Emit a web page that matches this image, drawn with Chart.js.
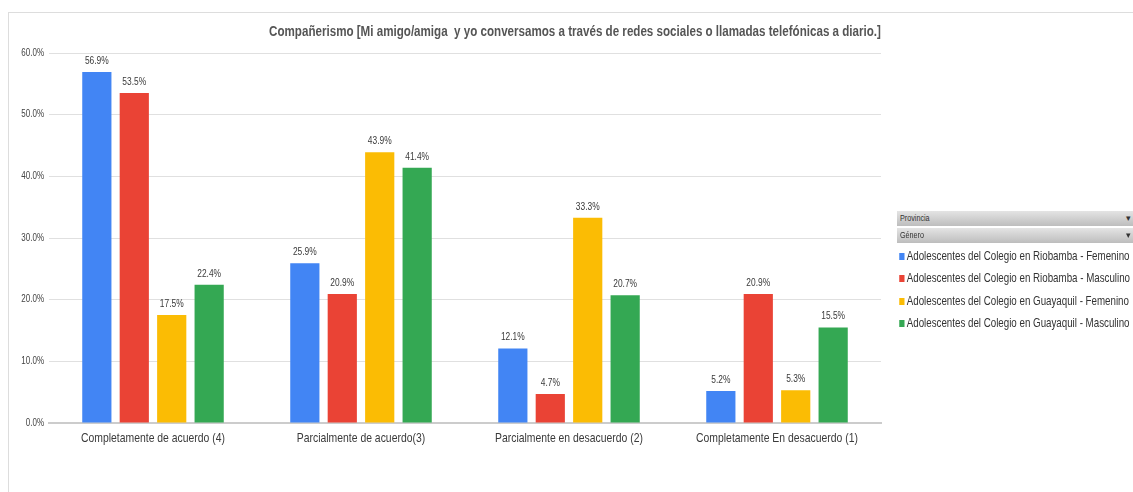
<!DOCTYPE html>
<html lang="es">
<head>
  <meta charset="UTF-8" />
  <title>Compañerismo</title>
  <script src="https://cdn.jsdelivr.net/npm/chart.js"></script>
  <style>
    body { margin: 0; background: #fff; font-family: "Liberation Sans", Arial, sans-serif; }
    #wrap { position: relative; width: 1133px; height: 492px; overflow: hidden; }
    #frame { position: absolute; left: 8px; top: 12px; right: -2px; bottom: -2px; border-left: 1px solid #ddd; border-top: 1px solid #ddd; }
    canvas { position: absolute; left: 0; top: 0; }
    #title { position: absolute; top: 23px; left: 175px; width: 800px; text-align: center; font-weight: bold; font-size: 14.5px; color: #555; white-space: nowrap; transform: scaleX(0.8); transform-origin: 400px 0; }
    #side { position: absolute; left: 897px; top: 211px; width: 240px; }
    .filter { height: 15px; margin-bottom: 2px; background: linear-gradient(#e4e4e4, #bdbdbd); color: #333; position: relative; }
    .filter span { position: absolute; left: 3px; top: 0; font-size: 9px; line-height: 15px; transform: scaleX(0.8); transform-origin: 0 0; }
    .filter::after { content: "▾"; position: absolute; right: 6px; top: 0; font-size: 9px; line-height: 15px; }
    .item { font-size: 13px; color: #333; height: 22.3px; line-height: 22.3px; white-space: nowrap; transform: scaleX(0.75); transform-origin: 0 0; padding-left: 3px; }
    .sw { display: inline-block; width: 7px; height: 7px; margin-right: 3px; vertical-align: 0px; }
  </style>
</head>
<body>
<div id="wrap">
  <div id="frame"></div>
  <canvas id="chart" width="1133" height="492"></canvas>
  <div id="title">Compañerismo [Mi amigo/amiga&nbsp; y yo conversamos a través de redes sociales o llamadas telefónicas a diario.]</div>
  <div id="side">
    <div class="filter"><span>Provincia</span></div>
    <div class="filter"><span>Género</span></div>
    <div id="legend"></div>
  </div>
</div>
<script>
  const categories = ['Completamente de acuerdo (4)', 'Parcialmente de acuerdo(3)', 'Parcialmente en desacuerdo (2)', 'Completamente En desacuerdo (1)'];
  const seriesNames = [
    'Adolescentes del Colegio en Riobamba - Femenino',
    'Adolescentes del Colegio en Riobamba - Masculino',
    'Adolescentes del Colegio en Guayaquil - Femenino',
    'Adolescentes del Colegio en Guayaquil - Masculino'
  ];
  const riobambaFem = [56.9, 25.9, 12.1, 5.2];
  const riobambaMasc = [53.5, 20.9, 4.7, 20.9];
  const guayaquilFem = [17.5, 43.9, 33.3, 5.3];
  const guayaquilMasc = [22.4, 41.4, 20.7, 15.5];
  const colors = ['#4285F4', '#EA4335', '#FBBC04', '#34A853'];
  const yTicks = [0, 10, 20, 30, 40, 50, 60];

  const font = '"Liberation Sans", Arial, sans-serif';
  const squeeze = 0.8; // the original text is horizontally condensed
  const allSeries = [riobambaFem, riobambaMasc, guayaquilFem, guayaquilMasc];

  document.getElementById('legend').innerHTML = seriesNames.map((n, i) =>
    `<div class="item"><span class="sw" style="background:${colors[i]}"></span>${n}</div>`).join('');

  function narrowText(ctx, text, x, y, size, color, align, weight) {
    ctx.save();
    ctx.font = (weight || 'normal') + ' ' + size + 'px ' + font;
    ctx.fillStyle = color;
    ctx.textAlign = align;
    ctx.textBaseline = 'middle';
    ctx.translate(x, y);
    ctx.scale(squeeze, 1);
    ctx.fillText(text, 0, 0);
    ctx.restore();
  }

  // draws value labels, and the axis labels in a condensed face
  const textPlugin = {
    id: 'textPlugin',
    afterDraw(chart) {
      const ctx = chart.ctx;
      const xs = chart.scales.x, ys = chart.scales.y;
      chart.data.datasets.forEach((ds, i) => {
        chart.getDatasetMeta(i).data.forEach((bar, j) => {
          narrowText(ctx, ds.data[j].toFixed(1) + '%', bar.x, bar.y - 11, 10.5, '#3a3a3a', 'center');
        });
      });
      categories.forEach((c, i) => {
        narrowText(ctx, c, xs.getPixelForTick(i), xs.top + 15, 13, '#3a3a3a', 'center');
      });
      yTicks.forEach(v => {
        narrowText(ctx, v.toFixed(1) + '%', ys.left + 44, ys.getPixelForValue(v), 10, '#444', 'right');
      });
    }
  };

  new Chart(document.getElementById('chart'), {
    type: 'bar',
    data: {
      labels: categories,
      datasets: allSeries.map((d, i) => ({
        label: seriesNames[i],
        data: d,
        backgroundColor: colors[i],
        categoryPercentage: 0.72,
        barPercentage: 0.78
      }))
    },
    options: {
      responsive: false,
      animation: false,
      events: [],
      layout: { padding: { left: 0, right: 252, top: 53, bottom: 0 } },
      plugins: { legend: { display: false }, title: { display: false }, tooltip: { enabled: false } },
      scales: {
        x: {
          grid: { display: false },
          border: { color: '#ccc', width: 2 },
          ticks: { display: false },
          afterFit(s) { s.height = 69; }
        },
        y: {
          min: 0, max: 60,
          afterBuildTicks(s) { s.ticks = yTicks.map(v => ({ value: v })); },
          grid: { color: '#e0e0e0', drawTicks: false },
          border: { display: false },
          ticks: { display: false },
          afterFit(s) { s.width = 49; }
        }
      }
    },
    plugins: [textPlugin]
  });
</script>
</body>
</html>
